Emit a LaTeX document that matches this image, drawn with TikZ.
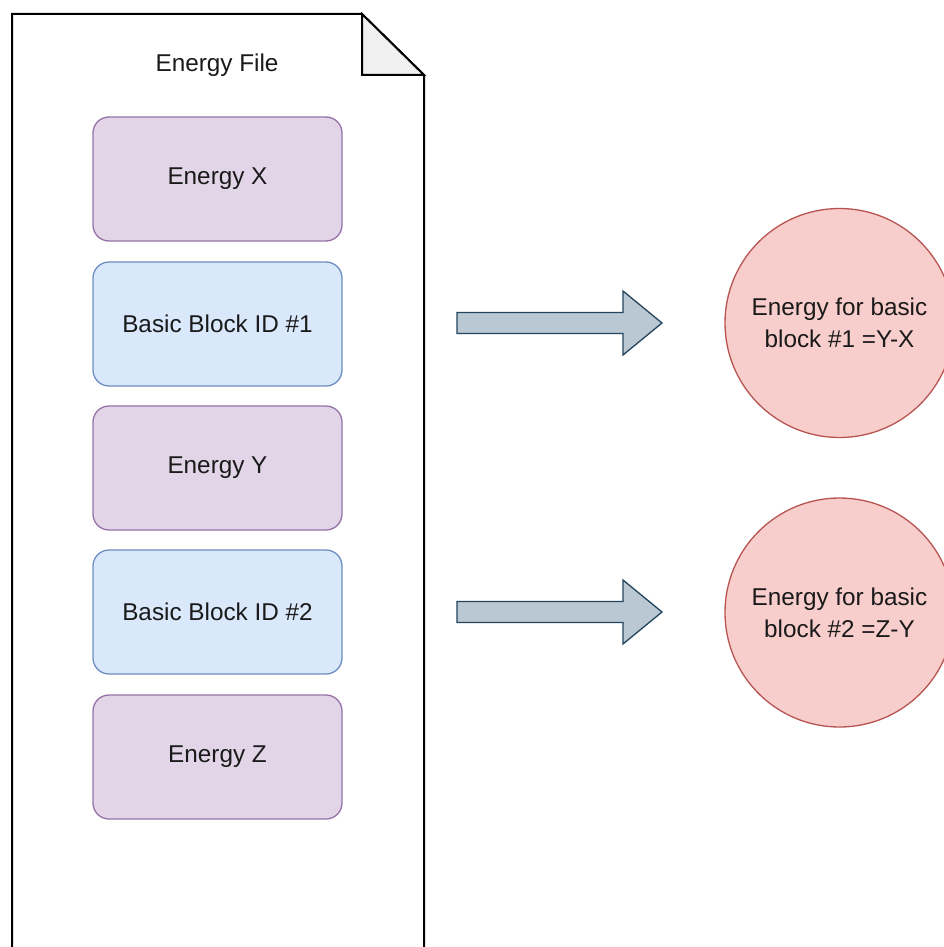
\documentclass[tikz,border=0pt]{standalone}
\usepackage{fontspec}
\setmainfont{Liberation Sans}
\definecolor{purfill}{HTML}{E1D5E7}
\definecolor{purline}{HTML}{9673A6}
\definecolor{bluefill}{HTML}{DAE8FC}
\definecolor{blueline}{HTML}{6C8EBF}
\definecolor{redfill}{HTML}{F8CECC}
\definecolor{redline}{HTML}{B85450}
\definecolor{arrfill}{HTML}{BAC8D3}
\definecolor{arrline}{HTML}{23445D}
\definecolor{foldfill}{HTML}{F0F0F0}
\definecolor{txt}{HTML}{1A1A1A}
\begin{document}
\begin{tikzpicture}[x=1pt,y=-1pt,
  every node/.style={font=\fontsize{24.3}{32}\selectfont, text=txt},
  box/.style={rounded corners=16pt, minimum width=249pt, minimum height=124pt, line width=1.3pt, align=center},
  purbox/.style={box, draw=purline, fill=purfill},
  bluebox/.style={box, draw=blueline, fill=bluefill},
  circ/.style={circle, draw=redline, fill=redfill, line width=1.3pt, minimum size=229pt, align=center, inner sep=0pt},
  blockarrow/.style={draw=arrline, fill=arrfill, line width=1.3pt, line join=miter}
]
\useasboundingbox (0,0) rectangle (944,947);
\clip (0,0) rectangle (944,947);
\fill[white] (0,0) rectangle (944,947);
% document shape
\draw[line width=2pt, fill=white, line join=miter] (12,950) -- (12,14) -- (362,14) -- (424,75) -- (424,950);
\draw[line width=2pt, fill=foldfill, line join=miter] (362,14) -- (362,75) -- (424,75) -- cycle;
\node (title) at (217,65) {Energy File};
% boxes
\node[purbox]  (ex)  at (217.5,179) {Energy X};
\node[bluebox] (bb1) at (217.5,324) {Basic Block ID \#1};
\node[purbox]  (ey)  at (217.5,468) {Energy Y};
\node[bluebox] (bb2) at (217.5,612) {Basic Block ID \#2};
\node[purbox]  (ez)  at (217.5,757) {Energy Z};
% circles
\node[circ] (c1) at (839.5,323) {Energy for basic\\block \#1 =Y-X};
\node[circ] (c2) at (839.5,612.5) {Energy for basic\\block \#2 =Z-Y};
% block arrows
\draw[blockarrow] (457,312.5) -- (623,312.5) -- (623,291) -- (662,323) -- (623,355) -- (623,333.5) -- (457,333.5) -- cycle;
\draw[blockarrow] (457,601.5) -- (623,601.5) -- (623,580) -- (662,612) -- (623,644) -- (623,622.5) -- (457,622.5) -- cycle;
\end{tikzpicture}
\end{document}
